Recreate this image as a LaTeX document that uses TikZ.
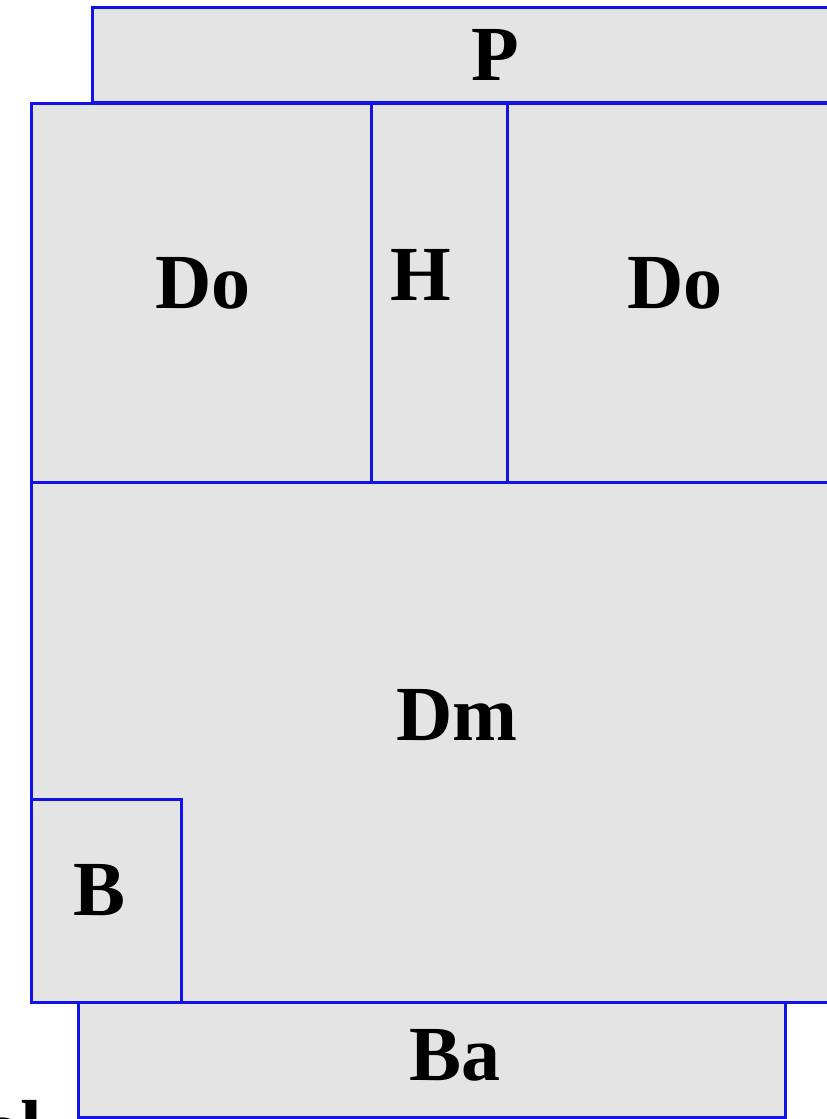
\documentclass[tikz,border=0pt]{standalone}
\usepackage{fontspec}
\setmainfont{Liberation Serif}
\definecolor{boxfill}{RGB}{228,228,228}
\definecolor{boxline}{RGB}{18,18,235}
\begin{document}
\begin{tikzpicture}[x=1pt,y=-1pt,
  box/.style={fill=boxfill,draw=boxline,line width=3pt},
  lab/.style={font=\fontsize{78}{80}\selectfont\bfseries,inner sep=0pt,anchor=base}]
\useasboundingbox (0,0) rectangle (827,1119);
% P
\path[box] (92,7) rectangle (840,102);
% Dm
\path[box] (31,482) rectangle (840,1002);
% Do left, H, Do right
\path[box] (31,103) rectangle (371,482);
\path[box] (371,103) rectangle (507,482);
\path[box] (507,103) rectangle (840,482);
% B
\path[box] (31,799) rectangle (181,1002);
% Ba
\path[box] (78,1002) rectangle (785,1117);
% labels
\node[lab] (tP) at (495,80) {P};
\node[lab] (tDo1) at (203,308) {Do};
\node[lab] (tH) at (421,300) {H};
\node[lab] (tDo2) at (675,308) {Do};
\node[lab] (tDm) at (457,740) {Dm};
\node[lab] (tB) at (100,915) {B};
\node[lab] (tBa) at (455,1080) {Ba};
\node[lab] (tl) at (12,1154) {al};
\end{tikzpicture}
\end{document}
